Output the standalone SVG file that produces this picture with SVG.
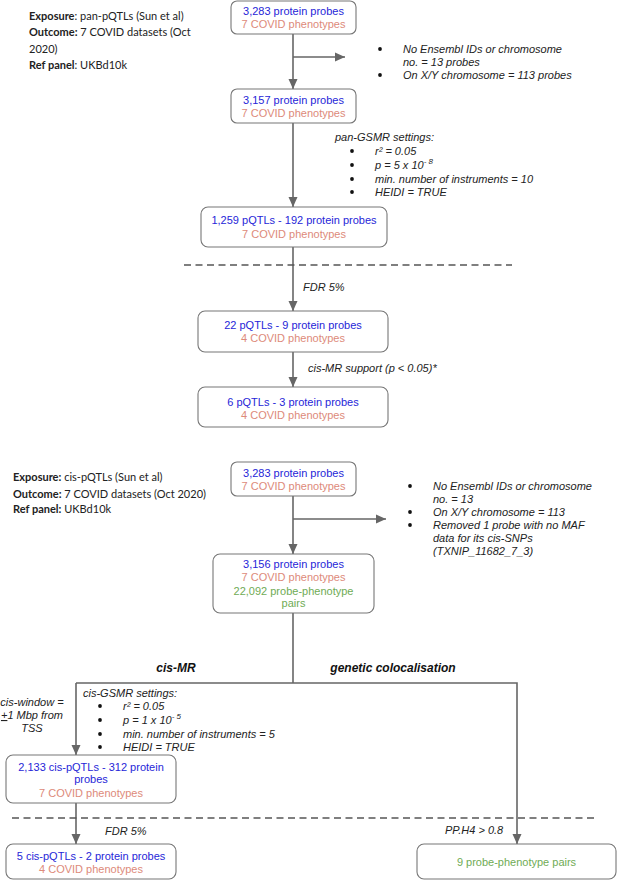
<svg xmlns="http://www.w3.org/2000/svg" width="617" height="880" viewBox="0 0 617 880">
<defs>
<marker id="ah" markerUnits="userSpaceOnUse" markerWidth="10" markerHeight="10" viewBox="0 0 10 10" refX="10" refY="5" orient="auto">
<path d="M0,0.5 L10,5 L0,9.5 Z" fill="#666"/>
</marker>
<style>
.box{fill:#fff;stroke:#777;stroke-width:1.1}
.t{font-family:"Liberation Sans",Arial,sans-serif;font-size:11px;text-anchor:middle}
.b{fill:#2626d8}
.r{fill:#dd8a7a}
.g{fill:#6fab55}
.n{font-family:"Liberation Sans",Arial,sans-serif;font-size:11px;font-style:italic;fill:#222}
.l{font-family:Lato,"Liberation Sans",sans-serif;font-size:11px;fill:#222}
.l tspan.k{font-weight:bold}
.h{font-family:"Liberation Sans",Arial,sans-serif;font-size:12px;font-style:italic;font-weight:bold;fill:#111;text-anchor:middle}
.c{fill:none;stroke:#666;stroke-width:1.6}
.d{fill:none;stroke:#555;stroke-width:1.4;stroke-dasharray:7,4.5}
.dot{fill:#111}
</style>
</defs>

<g id="info-pan">
<text class="l" x="29" y="20"><tspan class="k">Exposure</tspan>: pan-pQTLs (Sun et al)</text>
<text class="l" x="29" y="36"><tspan class="k">Outcome:</tspan> 7 COVID datasets (Oct</text>
<text class="l" x="29" y="53">2020)</text>
<text class="l" x="29" y="69"><tspan class="k">Ref panel</tspan>: UKBd10k</text>
</g>

<g id="info-cis">
<text class="l" x="13" y="481"><tspan class="k">Exposure:</tspan> cis-pQTLs (Sun et al)</text>
<text class="l" x="13" y="498"><tspan class="k">Outcome:</tspan> 7 COVID datasets (Oct 2020)</text>
<text class="l" x="13" y="513"><tspan class="k">Ref panel:</tspan> UKBd10k</text>
</g>

<g id="connectors">
<line class="c" x1="293" y1="34" x2="293" y2="89" marker-end="url(#ah)"/>
<line class="c" x1="293" y1="57" x2="345" y2="57" marker-end="url(#ah)"/>
<line class="c" x1="293" y1="123" x2="293" y2="207" marker-end="url(#ah)"/>
<line class="c" x1="293" y1="247" x2="293" y2="311" marker-end="url(#ah)"/>
<line class="c" x1="293" y1="352" x2="293" y2="387" marker-end="url(#ah)"/>
<line class="c" x1="293" y1="496" x2="293" y2="554" marker-end="url(#ah)"/>
<line class="c" x1="293" y1="519" x2="386" y2="519" marker-end="url(#ah)"/>
<polyline class="c" points="293,613 293,683"/>
<polyline class="c" points="76,683 517,683 517,844" marker-end="url(#ah)"/>
<line class="c" x1="76" y1="683" x2="76" y2="755" marker-end="url(#ah)"/>
<line class="c" x1="76" y1="803" x2="76" y2="844" marker-end="url(#ah)"/>
</g>

<g id="dividers">
<line class="d" x1="184" y1="265" x2="512" y2="265"/>
<line class="d" x1="12" y1="818" x2="598" y2="818"/>
</g>

<g id="excl-pan">
<circle class="dot" cx="380" cy="49" r="1.9"/>
<circle class="dot" cx="380" cy="75" r="1.9"/>
<text class="n" x="403" y="53">No Ensembl IDs or chromosome</text>
<text class="n" x="403" y="66">no. = 13 probes</text>
<text class="n" x="403" y="79">On X/Y chromosome = 113 probes</text>
</g>

<g id="settings-pan">
<text class="n" x="335" y="141">pan-GSMR settings:</text>
<circle class="dot" cx="352" cy="151" r="1.9"/>
<circle class="dot" cx="352" cy="165" r="1.9"/>
<circle class="dot" cx="352" cy="179" r="1.9"/>
<circle class="dot" cx="352" cy="192" r="1.9"/>
<text class="n" x="375" y="155">r² = 0.05</text>
<text class="n" x="375" y="169">p = 5 x 10<tspan font-size="8" dy="-5">- 8</tspan></text>
<text class="n" x="375" y="183">min. number of instruments = 10</text>
<text class="n" x="375" y="196">HEIDI = TRUE</text>
</g>

<g id="lbl-fdr1"><text class="n" x="303" y="291">FDR 5%</text></g>
<g id="lbl-cismr-support"><text class="n" x="308" y="372">cis-MR support (p &lt; 0.05)*</text></g>

<g id="excl-cis">
<circle class="dot" cx="410" cy="486" r="1.9"/>
<circle class="dot" cx="410" cy="512" r="1.9"/>
<circle class="dot" cx="410" cy="525" r="1.9"/>
<text class="n" x="433" y="490">No Ensembl IDs or chromosome</text>
<text class="n" x="433" y="503">no. = 13</text>
<text class="n" x="433" y="516">On X/Y chromosome = 113</text>
<text class="n" x="433" y="529">Removed 1 probe with no MAF</text>
<text class="n" x="433" y="542">data for its cis-SNPs</text>
<text class="n" x="433" y="555">(TXNIP_11682_7_3)</text>
</g>

<g id="lbl-branches">
<text class="h" x="176" y="672">cis-MR</text>
<text class="h" x="393" y="672">genetic colocalisation</text>
</g>

<g id="settings-cis">
<text class="n" x="83" y="697">cis-GSMR settings:</text>
<circle class="dot" cx="100" cy="706" r="1.9"/>
<circle class="dot" cx="100" cy="720" r="1.9"/>
<circle class="dot" cx="100" cy="734" r="1.9"/>
<circle class="dot" cx="100" cy="747" r="1.9"/>
<text class="n" x="123" y="710">r² = 0.05</text>
<text class="n" x="123" y="724">p = 1 x 10<tspan font-size="8" dy="-5">- 5</tspan></text>
<text class="n" x="123" y="738">min. number of instruments = 5</text>
<text class="n" x="123" y="751">HEIDI = TRUE</text>
</g>

<g id="lbl-window">
<text class="n" x="32" y="706" text-anchor="middle">cis-window =</text>
<text class="n" x="32" y="719" text-anchor="middle"><tspan text-decoration="underline">+</tspan>1 Mbp from</text>
<text class="n" x="32" y="732" text-anchor="middle">TSS</text>
</g>

<g id="lbl-fdr2"><text class="n" x="105" y="835">FDR 5%</text></g>
<g id="lbl-pph4"><text class="n" x="445" y="834">PP.H4 &gt; 0.8</text></g>

<g id="n1">
<rect class="box" x="231" y="1" width="125" height="33" rx="6"/>
<text class="t b" x="293.5" y="15">3,283 protein probes</text>
<text class="t r" x="293.5" y="28">7 COVID phenotypes</text>
</g>
<g id="n2">
<rect class="box" x="231" y="89" width="125" height="34" rx="6"/>
<text class="t b" x="293.5" y="104">3,157 protein probes</text>
<text class="t r" x="293.5" y="117">7 COVID phenotypes</text>
</g>
<g id="n3">
<rect class="box" x="201" y="207" width="186" height="40" rx="7"/>
<text class="t b" x="294" y="224">1,259 pQTLs - 192 protein probes</text>
<text class="t r" x="294" y="238">7 COVID phenotypes</text>
</g>
<g id="n4">
<rect class="box" x="198" y="311" width="190" height="41" rx="7"/>
<text class="t b" x="293" y="329">22 pQTLs - 9 protein probes</text>
<text class="t r" x="293" y="342">4 COVID phenotypes</text>
</g>
<g id="n5">
<rect class="box" x="198" y="387" width="190" height="40" rx="7"/>
<text class="t b" x="293" y="406">6 pQTLs - 3 protein probes</text>
<text class="t r" x="293" y="419">4 COVID phenotypes</text>
</g>
<g id="n6">
<rect class="box" x="231" y="462" width="125" height="34" rx="6"/>
<text class="t b" x="293.5" y="477">3,283 protein probes</text>
<text class="t r" x="293.5" y="490">7 COVID phenotypes</text>
</g>
<g id="n7">
<rect class="box" x="213" y="554" width="161" height="59" rx="7"/>
<text class="t b" x="293.5" y="568">3,156 protein probes</text>
<text class="t r" x="293.5" y="581">7 COVID phenotypes</text>
<text class="t g" x="293.5" y="595">22,092 probe-phenotype</text>
<text class="t g" x="293.5" y="607">pairs</text>
</g>
<g id="n8">
<rect class="box" x="6" y="755" width="170" height="48" rx="7"/>
<text class="t b" x="91" y="771">2,133 cis-pQTLs - 312 protein</text>
<text class="t b" x="91" y="783">probes</text>
<text class="t r" x="91" y="797">7 COVID phenotypes</text>
</g>
<g id="n9">
<rect class="box" x="6" y="844" width="170" height="35" rx="7"/>
<text class="t b" x="91" y="860">5 cis-pQTLs - 2 protein probes</text>
<text class="t r" x="91" y="873">4 COVID phenotypes</text>
</g>
<g id="n10">
<rect class="box" x="417" y="844" width="199" height="35" rx="7"/>
<text class="t g" x="516.5" y="866">9 probe-phenotype pairs</text>
</g>
</svg>
